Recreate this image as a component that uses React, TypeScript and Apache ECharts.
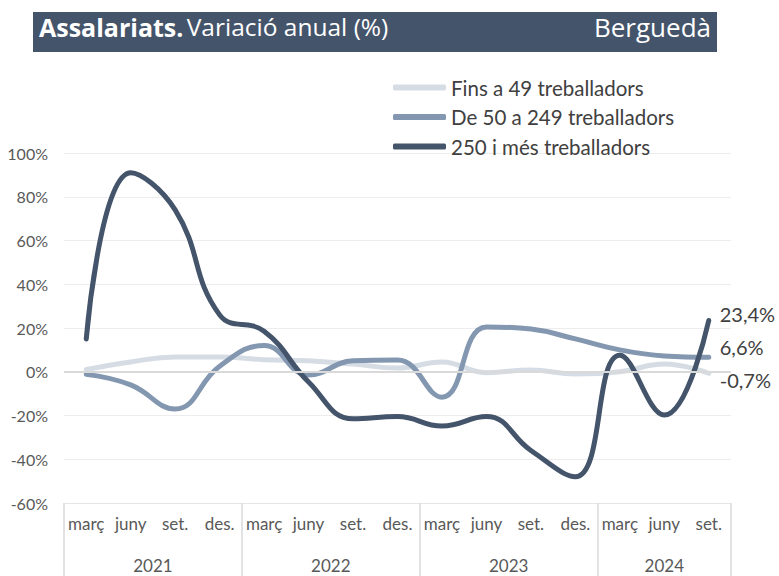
import React, { useEffect, useRef } from 'react';
import * as echarts from 'echarts';

const months = ['març', 'juny', 'set.', 'des.', 'març', 'juny', 'set.', 'des.', 'març', 'juny', 'set.', 'des.', 'març', 'juny', 'set.'];
const periodYears = ['2021', '2021', '2021', '2021', '2022', '2022', '2022', '2022', '2023', '2023', '2023', '2023', '2024', '2024', '2024'];

const seriesNames = ['Fins a 49 treballadors', 'De 50 a 249 treballadors', '250 i més treballadors'];
const small = [1, 4.5, 6.8, 6.8, 5.5, 5, 3.5, 1.7, 4.5, -0.4, 0.8, -1, 0, 3.5, -0.7];
const medium = [-1.2, -6, -17, 2.5, 12, -1.5, 5, 5.4, -11.6, 20.5, 19.5, 15, 10, 7.2, 6.6];
const large = [15, 91, 74, 26, 18.5, -4.7, -21.5, -20.5, -24.8, -20.5, -36, -48, 7.5, -19.8, 23.4];

const yTicks = [-60, -40, -20, 0, 20, 40, 60, 80, 100];

const colors = ['#D6DCE4', '#8497B0', '#44546A'];
const FONT = 'Lato';

const fmt = (v: number) => v.toFixed(1).replace('.', ',') + '%';

// year label centres, derived from the category list
const yearLabels: { [k: string]: string } = {};
(() => {
  const uniq = Array.from(new Set(periodYears));
  uniq.forEach((y) => {
    const first = periodYears.indexOf(y);
    const last = periodYears.lastIndexOf(y);
    yearLabels[String((first + last + 1) / 2)] = y;
  });
})();

export default function App() {
  const ref = useRef<HTMLDivElement>(null);
  useEffect(() => {
    document.body.style.margin = '0';
    const chart = echarts.init(ref.current!, undefined, { renderer: 'svg' });
    const mkSeries = (name: string, data: number[], color: string, dy: number, extra: any = {}) => ({
      name,
      type: 'line',
      data,
      xAxisIndex: 0,
      smooth: 0.45,
      symbol: 'none',
      lineStyle: { color, width: 5, cap: 'round' },
      itemStyle: { color },
      endLabel: {
        show: true,
        formatter: (p: any) => fmt(p.value),
        offset: [3, dy],
        fontFamily: FONT,
        fontSize: 20,
        color: '#404040',
      },
      ...extra,
    });
    chart.setOption({
      animation: false,
      textStyle: { fontFamily: FONT },
      graphic: [
        {
          type: 'rect',
          left: 33,
          top: 12,
          shape: { width: 684, height: 40 },
          style: { fill: '#44546A' },
          silent: true,
        },
        {
          type: 'text',
          left: 39,
          top: 14,
          style: {
            text: '{b|Assalariats.} {n|Variació anual (%)}',
            rich: {
              b: { fontFamily: 'Open Sans', fontWeight: 'bold', fontSize: 25, fill: '#fff', color: '#fff' },
              n: { fontFamily: 'Open Sans', fontSize: 24.5, fill: '#fff', color: '#fff' },
            },
          },
        },
        {
          type: 'text',
          right: 68,
          top: 14,
          style: { text: 'Berguedà', fontFamily: 'Open Sans', fontSize: 26, fill: '#fff' },
        },
      ],
      legend: {
        orient: 'vertical',
        left: 393,
        top: 77,
        padding: 0,
        itemWidth: 53,
        itemHeight: 6,
        itemGap: 8.5,
        icon: 'roundRect',
        textStyle: { fontFamily: FONT, fontSize: 20.5, color: '#404040' },
        data: seriesNames,
      },
      grid: { left: 64, right: 48, top: 153, bottom: 73, containLabel: false },
      xAxis: [
        {
          type: 'category',
          data: months,
          boundaryGap: true,
          position: 'bottom',
          axisLine: { onZero: false, lineStyle: { color: '#e6e6e6', width: 1 } },
          axisTick: {
            show: true,
            interval: (i: number) => i === 0 || periodYears[i] !== periodYears[i - 1],
            length: 73,
            lineStyle: { color: '#d9d9d9', width: 1.5 },
          },
          axisLabel: { fontFamily: FONT, fontSize: 17, color: '#595959', margin: 12, interval: 0 },
          splitLine: { show: false },
        },
        {
          type: 'value',
          min: 0,
          max: months.length,
          interval: 0.5,
          position: 'bottom',
          axisLine: { show: false },
          axisTick: { show: false },
          splitLine: { show: false },
          axisLabel: {
            fontFamily: FONT,
            fontSize: 17,
            color: '#595959',
            margin: 54,
            showMinLabel: true,
            showMaxLabel: true,
            formatter: (v: number) => yearLabels[String(v)] || '',
          },
        },
      ],
      yAxis: {
        type: 'value',
        min: yTicks[0],
        max: yTicks[yTicks.length - 1],
        interval: 20,
        axisLine: { show: false },
        axisTick: { show: false },
        axisLabel: { formatter: (v: number) => v + '%', fontFamily: FONT, fontSize: 16, color: '#595959', margin: 16 },
        splitLine: { lineStyle: { color: '#ededed', width: 1 } },
      },
      series: [
        mkSeries(seriesNames[0], small, colors[0], 7, {
          markLine: {
            silent: true,
            symbol: 'none',
            label: { show: false },
            lineStyle: { color: '#d9d9d9', width: 2, type: 'solid' },
            data: [{ yAxis: 0 }],
          },
        }),
        mkSeries(seriesNames[1], medium, colors[1], -10),
        mkSeries(seriesNames[2], large, colors[2], -7),
      ],
    });
    return () => chart.dispose();
  }, []);
  return <div ref={ref} style={{ width: 779, height: 576 }} />;
}
